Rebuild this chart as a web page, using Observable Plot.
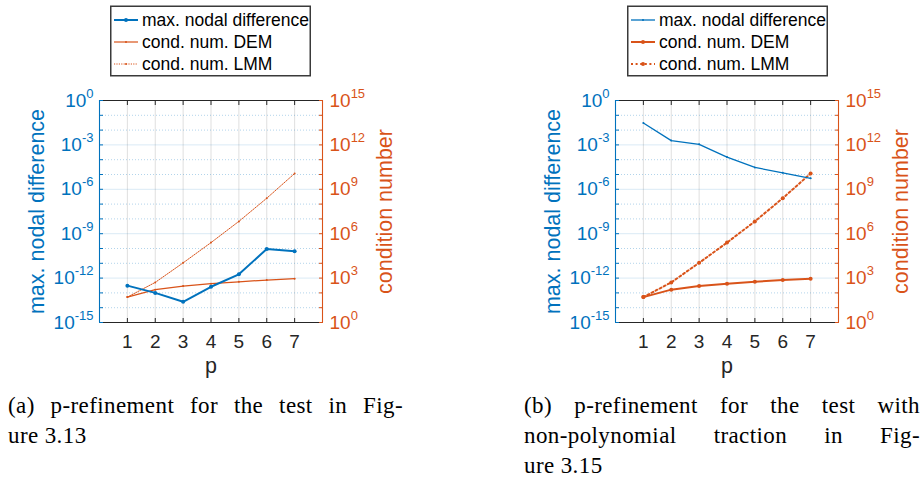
<!DOCTYPE html>
<html><head><meta charset="utf-8">
<script src="https://cdn.jsdelivr.net/npm/d3@7"></script>
<script src="https://cdn.jsdelivr.net/npm/@observablehq/plot@0.6"></script>
<style>
body{margin:0;background:#fff;width:924px;height:481px;position:relative;overflow:hidden;font-family:"Liberation Sans",Arial,Helvetica,sans-serif}
.panel{position:absolute;top:0}
.cap{position:absolute;top:391px;font-family:"Liberation Serif","Times New Roman",serif;font-size:23px;line-height:30px;color:#000;letter-spacing:0.4px}
.cap .j{text-align:justify;text-align-last:justify}
</style></head><body>
<div id="pa" class="panel" style="left:0"></div>
<div id="pb" class="panel" style="left:462px"></div>
<div class="cap" style="left:8px;width:395px"><div class="j">(a) p-refinement for the test in Fig-</div><div>ure 3.13</div></div>
<div class="cap" style="left:524px;width:396px"><div class="j">(b) p-refinement for the test with</div><div class="j">non-polynomial traction in Fig-</div><div>ure 3.15</div></div>
<script>
// ---- data ----
const p = [1, 2, 3, 4, 5, 6, 7];
const maxDiffA = [3.1e-13, 1.0e-13, 2.5e-14, 2.6e-13, 1.8e-12, 9.3e-11, 6.5e-11];
const maxDiffB = [3.0e-2, 1.95e-3, 1.1e-3, 1.5e-4, 3.0e-5, 1.3e-5, 5.5e-6];
const condDEM = [52, 166, 288, 417, 562, 741, 912];
const condLMM = [52, 513, 1.07e4, 2.5e5, 6.8e6, 2.5e8, 1.17e10];
const legendLabels = ["max. nodal difference", "cond. num. DEM", "cond. num. LMM"];
const leftLabel = "max. nodal difference";
const rightLabel = "condition number";
const xLabel = "p";
const leftExps = [-15, -12, -9, -6, -3, 0];   // labelled left ticks (powers of ten)
const rightExps = [0, 3, 6, 9, 12, 15];       // labelled right ticks (powers of ten)
const xDomain = [0, 8];

// ---- style ----
const BLUE = "#0072BD", ORANGE = "#D95319", DARK = "#262626";
const FONT = '"Liberation Sans", Arial, Helvetica, sans-serif';
const shift = 10 ** (rightExps[rightExps.length - 1] - leftExps[leftExps.length - 1]); // right axis = left axis * 1e15
const allDecades = d3.range(leftExps[0], leftExps[leftExps.length - 1] + 1).map(e => 10 ** e);
const majorVals = leftExps.map(e => 10 ** e);
const minorVals = allDecades.filter(v => !majorVals.some(m => Math.abs(Math.log10(m) - Math.log10(v)) < 1e-6));
const yDomain = [majorVals[0], majorVals[majorVals.length - 1]];

function supify(svg) {
  svg.querySelectorAll("text").forEach(t => {
    const m = /^10\^(-?\d+)$/.exec(t.textContent);
    if (!m) return;
    t.textContent = "";
    const ns = "http://www.w3.org/2000/svg";
    const a = document.createElementNS(ns, "tspan"); a.textContent = "10";
    const b = document.createElementNS(ns, "tspan"); b.textContent = m[1];
    b.setAttribute("dy", "-9"); b.setAttribute("font-size", "13");
    t.appendChild(a); t.appendChild(b);
  });
}

function panel(el, diff, o) {
  const rows = p.map((v, i) => ({p: v, diff: diff[i], dem: condDEM[i], lmm: condLMM[i]}));
  const chart = Plot.plot({
    width: 462, height: 380,
    marginLeft: o.ml, marginRight: o.mr, marginTop: 100, marginBottom: 58,
    style: {fontFamily: FONT, fontSize: "19px", background: "white", overflow: "visible"},
    x: {domain: xDomain},
    y: {type: "log", domain: yDomain},
    marks: [
      Plot.ruleX(p, {stroke: DARK, strokeOpacity: 0.15}),
      Plot.ruleY(minorVals, {stroke: BLUE, strokeOpacity: 0.3, strokeDasharray: "1,2"}),
      Plot.ruleY(majorVals, {stroke: BLUE, strokeOpacity: 0.15}),
      Plot.line(rows, {x: "p", y: d => d.dem / shift, stroke: ORANGE, strokeWidth: o.demW}),
      Plot.dot(rows, {x: "p", y: d => d.dem / shift, r: o.demR, fill: ORANGE}),
      Plot.line(rows, {x: "p", y: d => d.lmm / shift, stroke: ORANGE, strokeWidth: o.lmmW, strokeDasharray: o.lmmDash}),
      Plot.dot(rows, {x: "p", y: d => d.lmm / shift, r: o.lmmR, fill: ORANGE}),
      Plot.line(rows, {x: "p", y: "diff", stroke: BLUE, strokeWidth: o.diffW}),
      Plot.dot(rows, {x: "p", y: "diff", r: o.diffR, fill: BLUE}),
      Plot.ruleY([yDomain[0], yDomain[1]], {stroke: DARK, strokeWidth: 1.1}),
      Plot.ruleX([xDomain[0]], {stroke: BLUE, strokeWidth: 1.1}),
      Plot.ruleX([xDomain[1]], {stroke: ORANGE, strokeWidth: 1.1}),
      Plot.axisY({anchor: "left", ticks: allDecades, tickSize: 4, dx: 4, fill: "none", stroke: BLUE, label: null}),
      Plot.axisY({anchor: "right", ticks: allDecades, tickSize: 4, dx: -4, fill: "none", stroke: ORANGE, label: null}),
      Plot.axisX({anchor: "bottom", ticks: p, tickSize: 4, dy: -4, fill: "none", stroke: DARK, label: null}),
      Plot.axisX({anchor: "top", ticks: p, tickSize: 4, dy: 4, fill: "none", stroke: DARK, label: null}),
      Plot.axisY({anchor: "left", ticks: majorVals, tickSize: 0, tickPadding: 6, fill: BLUE, fontSize: 19,
        tickFormat: d => "10^" + Math.round(Math.log10(d)), label: null}),
      Plot.axisY({anchor: "right", ticks: majorVals, tickSize: 0, tickPadding: 7, fill: ORANGE, fontSize: 19,
        tickFormat: d => "10^" + Math.round(Math.log10(d * shift)), label: null}),
      Plot.axisX({anchor: "bottom", ticks: p, tickSize: 0, tickPadding: 12, fill: DARK, fontSize: 19, tickFormat: d => String(d), label: null}),
      Plot.text([leftLabel], {text: d => d, frameAnchor: "left", textAnchor: "middle", lineAnchor: "middle", rotate: -90, dx: -62, fill: BLUE, fontSize: 21.5}),
      Plot.text([rightLabel], {text: d => d, frameAnchor: "right", textAnchor: "middle", lineAnchor: "middle", rotate: -90, dx: 63, fill: ORANGE, fontSize: 21.5}),
      Plot.text([xLabel], {text: d => d, frameAnchor: "bottom", textAnchor: "middle", lineAnchor: "middle", dy: 44, fill: DARK, fontSize: 21.5})
    ]
  });
  supify(chart);
  document.getElementById(el).appendChild(chart);
}

function legend(left, width, o) {
  const svg = d3.select("body").append("svg")
    .attr("style", `position:absolute;left:${left}px;top:5px`)
    .attr("width", width).attr("height", 72);
  svg.append("rect").attr("x", 0.75).attr("y", 1.25).attr("width", width - 1.5).attr("height", 69.5)
    .attr("fill", "white").attr("stroke", "#3a3a3a").attr("stroke-width", 1.5);
  const styles = [
    {c: BLUE, w: o.diffW, r: o.diffR, dash: null},
    {c: ORANGE, w: o.demW, r: o.demR, dash: null},
    {c: ORANGE, w: o.lmmW, r: o.lmmR, dash: o.lmmDash}
  ];
  legendLabels.forEach((lab, i) => {
    const cy = 15 + 22 * i;
    const s = styles[i];
    svg.append("line").attr("x1", 4).attr("x2", 28).attr("y1", cy).attr("y2", cy)
      .attr("stroke", s.c).attr("stroke-width", s.w).attr("stroke-dasharray", s.dash);
    svg.append("circle").attr("cx", 16).attr("cy", cy).attr("r", s.r).attr("fill", s.c);
    svg.append("text").attr("x", 32).attr("y", cy + 6).attr("font-size", 17.5)
      .attr("font-family", FONT).attr("fill", "#000").text(lab);
  });
}

const styleA = {ml: 99, mr: 140, diffW: 2, diffR: 2, demW: 1.2, demR: 1, lmmW: 1, lmmR: 1, lmmDash: "1.2,1.2"};
const styleB = {ml: 153, mr: 86, diffW: 1.3, diffR: 1, demW: 2, demR: 2, lmmW: 2, lmmR: 2, lmmDash: "2,2.6"};
panel("pa", maxDiffA, styleA);
panel("pb", maxDiffB, styleB);
legend(110, 201, styleA);
legend(627, 201, styleB);
</script>
</body></html>
